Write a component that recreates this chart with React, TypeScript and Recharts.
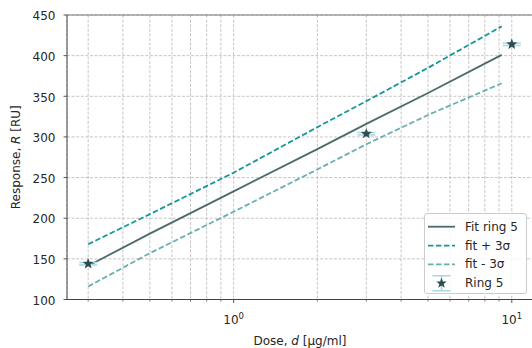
import React from "react";
import { ComposedChart, Line, Scatter, ErrorBar, XAxis, YAxis, CartesianGrid, ReferenceLine, Label } from "recharts";

const bandDoses = [0.3, 0.5, 1, 2, 3, 5, 9.2];
const fitDoses = [0.31, 0.5, 1, 2, 3, 5, 9.2];
const fitValues = [144, 181, 233, 285, 316, 354, 401];
const upperValues = [168, 205, 256, 312, 344, 385, 436];
const lowerValues = [116, 157, 208, 260, 291, 327, 366];

const ringDoses = [0.3, 3, 10];
const ringValues = [144, 304, 414];
const ringErrors = [1.5, 1.5, 1.5];

const majorTicks = [1, 10];
const minorTicks = [0.3, 0.4, 0.5, 0.6, 0.7, 0.8, 0.9, 2, 3, 4, 5, 6, 7, 8, 9];
const yTicks = [100, 150, 200, 250, 300, 350, 400, 450];
const legendLabels = ["Fit ring 5", "fit + 3σ", "fit - 3σ", "Ring 5"];

const COLORS = {
  fit: "#4d6a6a",
  upper: "#169797",
  lower: "#6aaeae",
  star: "#2f4f4f",
  err: "#add8e6",
  grid: "#b8b8b8",
  text: "#262626",
};

const fitData = fitDoses.map((dose, i) => ({ dose, r: fitValues[i] }));
const upperData = bandDoses.map((dose, i) => ({ dose, r: upperValues[i] }));
const lowerData = bandDoses.map((dose, i) => ({ dose, r: lowerValues[i] }));
const ringData = ringDoses.map((dose, i) => ({ dose, r: ringValues[i], err: ringErrors[i] }));
const xTicks = [...minorTicks, ...majorTicks].sort((a, b) => a - b);

function starPoints(cx: number, cy: number, R: number) {
  const pts: string[] = [];
  for (let k = 0; k < 10; k += 1) {
    const rad = k % 2 === 0 ? R : R * 0.42;
    const a = -Math.PI / 2 + (k * Math.PI) / 5;
    pts.push(`${cx + rad * Math.cos(a)},${cy + rad * Math.sin(a)}`);
  }
  return pts.join(" ");
}

function Star(props: any) {
  const { cx, cy } = props;
  if (cx == null || cy == null) return null;
  return <polygon points={starPoints(cx, cy, 5.8)} fill={COLORS.star} />;
}

function XTick(props: any) {
  const { x, y, payload } = props;
  const major = majorTicks.includes(payload.value);
  const exp = Math.round(Math.log10(payload.value));
  return (
    <g>
      <line x1={x} x2={x} y1={y} y2={y + (major ? 3.5 : 2)} stroke="#444" strokeWidth={major ? 0.9 : 0.7} />
      {major ? (
        <text x={x} y={y + 24.5} textAnchor="middle" fontSize={12} fill={COLORS.text}>
          <tspan>10</tspan>
          <tspan dy={-5} fontSize={8.5}>{exp}</tspan>
        </text>
      ) : null}
    </g>
  );
}

function YLabel(props: any) {
  const vb = props.viewBox || { x: 0, y: 15, width: 67, height: 284.5 };
  const cx = vb.x + 16;
  const cy = vb.y + vb.height / 2;
  return (
    <text x={cx} y={cy} transform={`rotate(-90 ${cx} ${cy})`} textAnchor="middle" dominantBaseline="central" fontSize={12} fill={COLORS.text}>
      Response, <tspan fontStyle="italic">R</tspan> [RU]
    </text>
  );
}

function XLabel(props: any) {
  const vb = props.viewBox || { x: 67, y: 299.5, width: 466, height: 48.5 };
  return (
    <text x={vb.x + vb.width / 2} y={vb.y + 45.5} textAnchor="middle" fontSize={12} fill={COLORS.text}>
      Dose, <tspan fontStyle="italic">d</tspan> [μg/ml]
    </text>
  );
}

function LegendBox() {
  const rows = [12.7, 31.7, 50.3, 69.3];
  return (
    <div
      style={{
        position: "absolute",
        left: 424,
        top: 213,
        width: 101,
        height: 79,
        border: "1px solid #cccccc",
        borderRadius: 3,
        background: "rgba(255,255,255,0.85)",
      }}
    >
      <svg width={101} height={79} style={{ position: "absolute", left: 0, top: 0 }}>
        <line x1={3} x2={30} y1={rows[0]} y2={rows[0]} stroke={COLORS.fit} strokeWidth={1.8} />
        <line x1={3} x2={30} y1={rows[1]} y2={rows[1]} stroke={COLORS.upper} strokeWidth={1.8} strokeDasharray="5.5 2.5" />
        <line x1={3} x2={30} y1={rows[2]} y2={rows[2]} stroke={COLORS.lower} strokeWidth={1.8} strokeDasharray="5.5 2.5" />
        <line x1={16.5} x2={16.5} y1={rows[3] - 7.5} y2={rows[3] + 7.5} stroke={COLORS.err} strokeWidth={1.6} />
        <line x1={7.5} x2={25.5} y1={rows[3] - 7.5} y2={rows[3] - 7.5} stroke={COLORS.err} strokeWidth={1.6} />
        <line x1={7.5} x2={25.5} y1={rows[3] + 7.5} y2={rows[3] + 7.5} stroke={COLORS.err} strokeWidth={1.6} />
        <polygon points={starPoints(16.5, rows[3], 5.5)} fill={COLORS.star} />
        {legendLabels.map((label, i) => (
          <text key={label} x={40} y={rows[i]} dominantBaseline="central" fontSize={12} fill={COLORS.text}>
            {label}
          </text>
        ))}
      </svg>
    </div>
  );
}

export default function App() {
  return (
    <div style={{ position: "absolute", left: 0, top: 0, width: 532, height: 348, overflow: "hidden", background: "#fff", fontFamily: "'DejaVu Sans', sans-serif" }}>
      <ComposedChart width={540} height={348} margin={{ top: 15, right: 7, bottom: 0, left: 0 }} style={{ fontFamily: "'DejaVu Sans', sans-serif" }}>
        <CartesianGrid stroke={COLORS.grid} strokeDasharray="3 1.6" strokeWidth={0.8} />
        <XAxis
          dataKey="dose"
          type="number"
          scale="log"
          domain={[0.2518, 11.92]}
          allowDataOverflow
          ticks={xTicks}
          interval={0}
          tick={<XTick />}
          tickLine={false}
          tickSize={0}
          tickMargin={0}
          height={48.5}
          axisLine={{ stroke: "#444", strokeWidth: 1.1 }}
        >
          <Label content={<XLabel />} />
        </XAxis>
        <YAxis
          dataKey="r"
          type="number"
          domain={[100, 450]}
          allowDataOverflow
          ticks={yTicks}
          interval={0}
          width={67}
          tickSize={3.5}
          tickMargin={8}
          tick={{ fontSize: 12, fill: COLORS.text, dy: 1 }}
          tickLine={{ stroke: "#444", strokeWidth: 0.9 }}
          axisLine={{ stroke: "#555", strokeWidth: 1.1 }}
        >
          <Label content={<YLabel />} />
        </YAxis>
        <ReferenceLine y={450} stroke="#777" strokeWidth={1.1} />
        <Line data={upperData} dataKey="r" type="linear" stroke={COLORS.upper} strokeWidth={1.8} strokeDasharray="5.5 2.5" dot={false} isAnimationActive={false} />
        <Line data={lowerData} dataKey="r" type="linear" stroke={COLORS.lower} strokeWidth={1.8} strokeDasharray="5.5 2.5" dot={false} isAnimationActive={false} />
        <Line data={fitData} dataKey="r" type="linear" stroke={COLORS.fit} strokeWidth={1.8} dot={false} isAnimationActive={false} />
        <Scatter data={ringData} dataKey="r" shape={<Star />} isAnimationActive={false}>
          <ErrorBar dataKey="err" direction="y" width={9} stroke={COLORS.err} strokeWidth={1.6} />
        </Scatter>
      </ComposedChart>
      <LegendBox />
    </div>
  );
}
